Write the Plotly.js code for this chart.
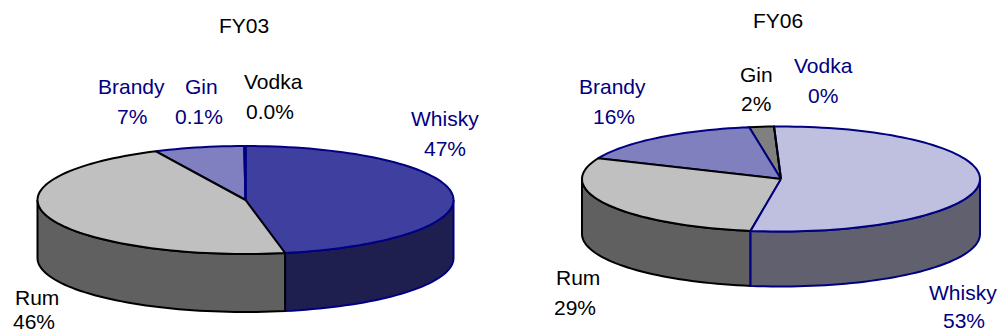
<!DOCTYPE html>
<html>
<head>
<meta charset="utf-8">
<script src="https://cdn.plot.ly/plotly-3.0.1.min.js"></script>
<style>html,body{margin:0;padding:0;background:#fff;overflow:hidden}#chart{width:1000px;height:334px}</style>
</head>
<body>
<div id="chart"></div>
<script>
// Spirit sales mix, two fiscal years, drawn as tilted pies with a visible wall.
const categories = ["Whisky", "Rum", "Brandy", "Gin", "Vodka"];
const fy03Values = [47, 46, 7, 0.1, 0.0];
const fy06Values = [53, 29, 16, 2, 0];
const fy03Labels = ["47%", "46%", "7%", "0.1%", "0.0%"];
const fy06Labels = ["53%", "29%", "16%", "2%", "0%"];

const NAVY = "#000080";
const BLACK = "#000000";

const fy03Style = {
  title: {text: "FY03", x: 244, y: 25},
  cx: 245.5, cy: 200, rx: 208, ry: 54, depth: 58, startAngle: 0,
  top: ["#3F3F9F", "#C0C0C0", "#8080C0", "#000080", "#000080"],
  side: ["#1F1F4F", "#606060", "#40406F", "#000040", "#000040"],
  line: [NAVY, BLACK, NAVY, NAVY, NAVY],
  text: [NAVY, BLACK, NAVY, NAVY, BLACK],
  drawOrder: [0, 2, 3, 4, 1],
  namePos: [[444.5, 118], [36.5, 297], [131, 86], [201.5, 86], [273, 81]],
  valuePos: [[445, 148], [34, 321], [132, 116], [199, 116], [270, 111]]
};

const fy06Style = {
  title: {text: "FY06", x: 778, y: 20},
  cx: 781, cy: 179, rx: 199, ry: 52.5, depth: 55, startAngle: -2,
  top: ["#BFBFDF", "#C0C0C0", "#8080BF", "#808080", "#000080"],
  side: ["#60606F", "#606060", "#40406F", "#404040", "#000040"],
  line: [NAVY, BLACK, NAVY, BLACK, BLACK],
  text: [NAVY, BLACK, NAVY, BLACK, NAVY],
  drawOrder: [3, 2, 1, 0, 4],
  namePos: [[962.5, 292], [577.5, 277], [612.5, 86], [756.5, 74], [823.5, 65]],
  valuePos: [[964, 320], [575, 307], [614, 116], [756, 103], [823, 95]]
};

const rad = d => d * Math.PI / 180;

// Degrees along the rim, inclusive of both ends.
function sweep(from, to) {
  const out = [];
  const n = Math.max(1, Math.ceil((to - from) / 2));
  for (let i = 0; i <= n; i++) out.push(from + (to - from) * i / n);
  return out;
}

function rimX(s, a) { return s.cx + s.rx * Math.sin(rad(a)); }
function rimY(s, a) { return s.cy - s.ry * Math.cos(rad(a)); }

function polygon(x, y, fill, line) {
  return {
    type: "scatter", mode: "lines", x, y,
    fill: "toself", fillcolor: fill,
    line: {color: line, width: 2, simplify: false},
    hoverinfo: "skip", showlegend: false
  };
}

function pieTraces(values, s) {
  const total = values.reduce((a, b) => a + b, 0);
  let acc = s.startAngle;
  const spans = values.map(v => {
    const from = acc;
    acc += v / total * 360;
    return [from, acc];
  });
  const walls = [];
  const tops = [];
  s.drawOrder.forEach(i => {
    const [from, to] = spans[i];
    // Only the front half of the rim, 90 to 270 degrees, shows a wall.
    const a = Math.max(from, 90), b = Math.min(to, 270);
    if (b > a) {
      const arc = sweep(a, b);
      const x = arc.map(t => rimX(s, t));
      const y = arc.map(t => rimY(s, t));
      const back = arc.slice().reverse();
      walls.push(polygon(
        x.concat(back.map(t => rimX(s, t)), [x[0]]),
        y.concat(back.map(t => rimY(s, t) + s.depth), [y[0]]),
        s.side[i], s.line[i]));
    }
    const arc = sweep(from, to);
    tops.push(polygon(
      [s.cx].concat(arc.map(t => rimX(s, t)), [s.cx]),
      [s.cy].concat(arc.map(t => rimY(s, t)), [s.cy]),
      s.top[i], s.line[i]));
  });
  return walls.concat(tops);
}

function note(text, pos, color) {
  return {
    text, x: pos[0], y: pos[1], xref: "x", yref: "y",
    xanchor: "center", yanchor: "middle", showarrow: false,
    font: {family: "Liberation Sans, Arial, sans-serif", size: 21, color}
  };
}

function pieNotes(labels, s) {
  const out = [note(s.title.text, [s.title.x, s.title.y], BLACK)];
  categories.forEach((c, i) => {
    out.push(note(c, s.namePos[i], s.text[i]));
    out.push(note(labels[i], s.valuePos[i], s.text[i]));
  });
  return out;
}

const traces = pieTraces(fy03Values, fy03Style).concat(pieTraces(fy06Values, fy06Style));

const layout = {
  width: 1000, height: 334,
  margin: {l: 0, r: 0, t: 0, b: 0},
  paper_bgcolor: "#ffffff", plot_bgcolor: "#ffffff",
  showlegend: false,
  xaxis: {range: [0, 1000], visible: false, fixedrange: true},
  yaxis: {range: [334, 0], visible: false, fixedrange: true},
  annotations: pieNotes(fy03Labels, fy03Style).concat(pieNotes(fy06Labels, fy06Style))
};

Plotly.newPlot("chart", traces, layout, {displayModeBar: false, staticPlot: true});
</script>
</body>
</html>
